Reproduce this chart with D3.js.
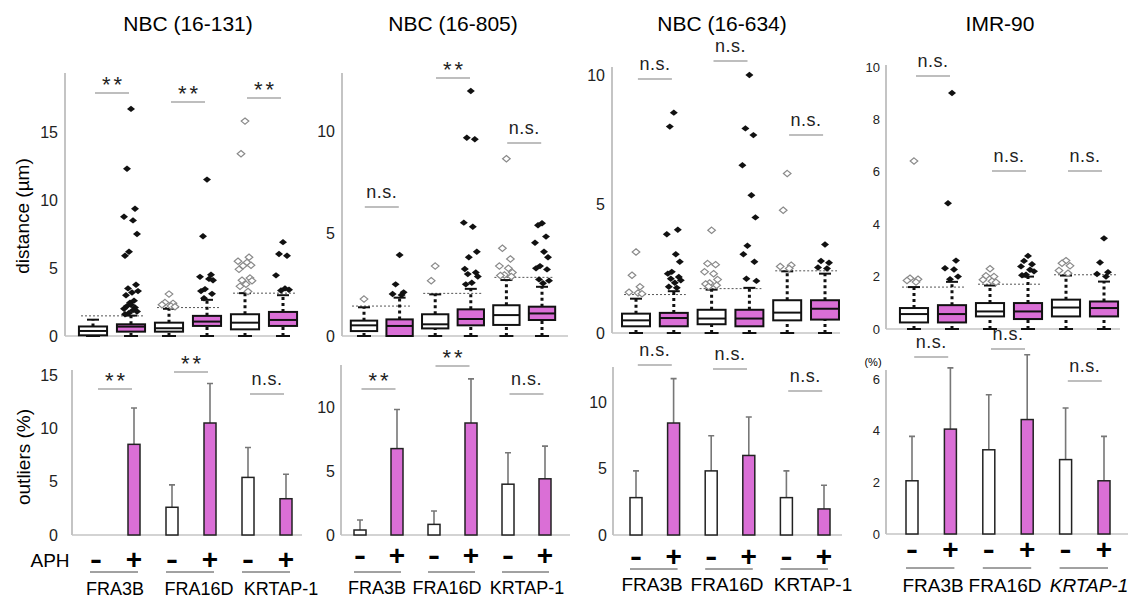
<!DOCTYPE html>
<html>
<head>
<meta charset="utf-8">
<script src="https://d3js.org/d3.v7.min.js"></script>
<style>
  body {
    margin: 0;
    background: #fff;
    font-family: "Liberation Sans", Arial, sans-serif;
  }
  svg { display: block; }
  .tick text { fill: #222; }
  .axis-line { stroke: #c4c4c4; stroke-width: 2; }
  .sig-line { stroke: #a8a8a8; stroke-width: 1.5; }
  .cutoff { stroke: #555; stroke-width: 1; stroke-dasharray: 2 2; }
  .whisker { stroke: #111; stroke-width: 3; stroke-dasharray: 3 3; }
  .cap, .median { stroke: #111; stroke-width: 2; }
  .err { stroke: #777; stroke-width: 1.6; }
  .under { stroke: #444; stroke-width: 1; }
</style>
</head>
<body>
<script>
  // ---- data ----
  var panelTitles = ["NBC (16-131)", "NBC (16-805)", "NBC (16-634)", "IMR-90"];
  var loci = ["FRA3B", "FRA16D", "KRTAP-1"];
  var aph = ["-", "+"];

  var topTicks = [[0, 5, 10, 15], [0, 5, 10], [0, 5, 10], [0, 2, 4, 6, 8, 10]];
  var botTicks = [[0, 5, 10, 15], [0, 5, 10], [0, 5, 10], [0, 2, 4, 6]];

  // [low whisker, q1, median, q3, high whisker] for FRA3B-, FRA3B+, FRA16D-, FRA16D+, KRTAP-1-, KRTAP-1+
  var boxStats = [
    [[0, 0.05, 0.37, 0.7, 1.2], [0, 0.32, 0.69, 0.86, 1.5], [0, 0.32, 0.57, 0.98, 2.0],
     [0, 0.74, 1.06, 1.48, 2.66], [0, 0.49, 0.98, 1.6, 3.15], [0, 0.74, 1.18, 1.77, 3.0]],
    [[0, 0.24, 0.52, 0.75, 1.4], [0, 0, 0.49, 0.81, 1.87], [0, 0.37, 0.57, 1.06, 2.03],
     [0, 0.52, 0.83, 1.3, 2.3], [0, 0.54, 1.02, 1.5, 2.73], [0, 0.78, 1.1, 1.43, 2.4]],
    [[0, 0.26, 0.49, 0.75, 1.33], [0, 0.26, 0.58, 0.78, 1.62], [0, 0.34, 0.56, 0.9, 1.68],
     [0, 0.26, 0.56, 0.9, 1.75], [0, 0.49, 0.79, 1.27, 2.39], [0, 0.52, 0.94, 1.27, 2.3]],
    [[0, 0.25, 0.57, 0.8, 1.6], [0, 0.25, 0.57, 0.91, 1.8], [0, 0.48, 0.67, 0.99, 1.66],
     [0, 0.38, 0.67, 0.99, 2.0], [0, 0.48, 0.82, 1.12, 2.04], [0, 0.48, 0.8, 1.05, 1.81]]
  ];

  var outliers = [
    [[],
     [16.7, 12.3, 9.36, 8.77, 8.5, 7.5, 6.2, 5.9, 3.77, 3.5, 3.3, 3.2, 3.0, 2.6, 2.45, 2.3, 2.2, 2.1, 2.0, 1.9, 1.8, 1.7, 1.6],
     [3.08, 2.46, 2.4, 2.3, 2.2, 2.15],
     [11.5, 7.34, 4.5, 4.35, 4.2, 4.1, 3.45, 3.3, 3.1, 2.78],
     [15.8, 13.4, 5.79, 5.5, 5.4, 5.2, 5.17, 4.9, 4.26, 4.1, 4.06, 3.8, 3.65, 3.27],
     [6.9, 6.03, 5.9, 4.46, 3.5, 3.4, 3.35]],
    [[1.8],
     [3.95, 2.52, 2.13, 2.05, 2.0],
     [3.41, 2.7],
     [11.95, 9.67, 9.6, 5.53, 5.33, 4.11, 3.84, 3.27, 3.1, 3.02, 2.9, 2.6, 2.52],
     [8.65, 4.28, 3.76, 3.41, 3.3, 3.1, 2.98, 2.95, 2.9],
     [5.5, 5.4, 4.85, 4.55, 4.11, 3.84, 3.41, 3.3, 3.25, 2.76, 2.7, 2.57]],
    [[3.14, 2.24, 1.79, 1.58, 1.55, 1.52],
     [8.54, 8.0, 4.0, 3.83, 3.05, 2.76, 2.37, 2.3, 2.17, 2.1, 2.04, 1.95, 1.79, 1.75],
     [3.98, 2.69, 2.65, 2.37, 2.3, 2.07, 1.94, 1.9, 1.85, 1.8],
     [10.0, 7.93, 7.67, 6.5, 5.34, 4.48, 3.38, 3.05, 2.76, 2.1, 2.02],
     [6.18, 4.76, 2.63, 2.58, 2.5],
     [3.43, 2.79, 2.72, 2.54, 2.5]],
    [[6.41, 1.94, 1.9, 1.85, 1.79],
     [9.01, 4.8, 2.61, 2.32, 2.27, 2.0, 1.9],
     [2.3, 2.03, 2.0, 1.88, 1.82, 1.78],
     [2.79, 2.6, 2.47, 2.39, 2.26, 2.2, 2.07, 2.05],
     [2.61, 2.51, 2.41, 2.23, 2.13],
     [3.46, 2.54, 2.17, 2.1, 2.0]]
  ];

  // outlier cut-off per locus (dotted line)
  var cutoffs = [[1.48, 2.09, 3.15], [1.46, 2.08, 2.86], [1.49, 1.72, 2.41], [1.6, 1.71, 2.07]];

  // outliers (%) mean and SD
  var outlierPct = [
    [0, 8.5, 2.6, 10.5, 5.4, 3.4],
    [0.39, 6.75, 0.83, 8.75, 3.97, 4.39],
    [2.81, 8.42, 4.82, 5.98, 2.81, 1.96],
    [2.06, 4.06, 3.26, 4.43, 2.88, 2.06]
  ];
  var outlierSD = [
    [0, 3.4, 2.1, 3.7, 2.8, 2.3],
    [0.78, 3.05, 1.04, 3.45, 2.45, 2.55],
    [2.01, 3.34, 2.64, 2.89, 2.01, 1.78],
    [1.72, 2.37, 2.13, 2.51, 2.0, 1.72]
  ];

  var topSig = [["**", "**", "**"], ["n.s.", "**", "n.s."], ["n.s.", "n.s.", "n.s."], ["n.s.", "n.s.", "n.s."]];
  var botSig = [["**", "**", "n.s."], ["**", "**", "n.s."], ["n.s.", "n.s.", "n.s."], ["n.s.", "n.s.", "n.s."]];

  // ---- layout (pixels) ----
  var layout = [
    {tx: 188,
     top: {ax: 65, end: 290, y0: 73, base: 336, ref: [15, 132], c0: 93, step: 38, lab: 58, fs: 16},
     bot: {ax: 72, end: 302, y0: 370, base: 535, ref: [15, 375], c0: 96, step: 38, lab: 58, fs: 16},
     aphY: 569, ulY: 572, grpY: 595, grpX: [115, 199, 281], grpFs: 18,
     sigTop: [93, 102, 98], sigBot: [389, 372, 394]},
    {tx: 453,
     top: {ax: 342, end: 568, y0: 73, base: 336, ref: [10, 131], c0: 364, step: 35.6, lab: 335, fs: 16},
     bot: {ax: 341, end: 570, y0: 365, base: 535, ref: [10, 407], c0: 360, step: 37, lab: 335, fs: 16},
     aphY: 565, ulY: 572, grpY: 594, grpX: [377, 447, 527], grpFs: 18,
     sigTop: [207, 78, 143], sigBot: [389, 366, 394]},
    {tx: 722,
     top: {ax: 612, end: 840, y0: 67, base: 333, ref: [10, 75], c0: 636, step: 37.8, lab: 605, fs: 16},
     bot: {ax: 613, end: 842, y0: 367, base: 535, ref: [10, 402], c0: 636, step: 37.6, lab: 607, fs: 16},
     aphY: 566, ulY: 569, grpY: 591, grpX: [652, 727, 813], grpFs: 19,
     sigTop: [79, 61, 135], sigBot: [365, 369, 391]},
    {tx: 1000,
     top: {ax: 886, end: 1120, y0: 65, base: 329, ref: [10, 67], c0: 914, step: 38, lab: 880, fs: 13},
     bot: {ax: 886, end: 1128, y0: 370, base: 534, ref: [6, 379], c0: 912, step: 38.4, lab: 880, fs: 13},
     aphY: 559, ulY: 568, grpY: 592, grpX: [933, 1005, 1089], grpFs: 19,
     sigTop: [76, 171, 171], sigBot: [357, 349, 381]}
  ];

  var pink = "#da6fd6";
  var conds = loci.flatMap(l => aph.map(a => l + a));
  var jitter = [0, -4, 4, -7, 2, 6, -2, -6, 5, -3, 7, 1, -5, 3, -1];
  var fillDiamond = "M0,-3.2L4,0L0,3.2L-4,0Z";
  var openDiamond = "M0,-3.2L3.8,0L0,3.2L-3.8,0Z";

  var svg = d3.select("body").append("svg")
      .attr("width", 1138)
      .attr("height", 601);

  function yAxis(g, L, y, ticks) {
    g.append("line").attr("class", "axis-line")
        .attr("x1", L.ax).attr("x2", L.ax).attr("y1", L.y0).attr("y2", L.base);
    g.append("line").attr("class", "axis-line").style("stroke-width", 1.5)
        .attr("x1", L.ax).attr("x2", L.end).attr("y1", L.base).attr("y2", L.base);
    g.append("g")
        .attr("transform", `translate(${L.ax},0)`)
        .call(d3.axisLeft(y).tickValues(ticks).tickSize(0).tickPadding(L.ax - L.lab).tickFormat(d3.format("d")))
        .call(a => a.select(".domain").remove())
        .selectAll("text")
        .style("font-size", L.fs + "px")
        .style("font-family", "inherit");
  }

  function sig(g, x, lineY, label) {
    g.append("line").attr("class", "sig-line")
        .attr("x1", x - 17).attr("x2", x + 17).attr("y1", lineY).attr("y2", lineY);
    var star = label === "**";
    g.append("text")
        .attr("x", x + (star ? 1.5 : 0))
        .attr("y", star ? lineY - 1 : lineY - 9)
        .attr("text-anchor", "middle")
        .style("font-size", star ? "22px" : "18px")
        .style("letter-spacing", star ? "3px" : "0.5px")
        .style("fill", "#222")
        .text(label);
  }

  layout.forEach(function(P, p) {
    var g = svg.append("g");

    g.append("text")
        .attr("x", P.tx).attr("y", 31)
        .attr("text-anchor", "middle")
        .style("font-size", "21px")
        .text(panelTitles[p]);

    // ---- box plots ----
    var T = P.top;
    var xT = d3.scalePoint().domain(conds).range([T.c0, T.c0 + 5 * T.step]);
    var yT = d3.scaleLinear().domain([0, T.ref[0]]).range([T.base, T.ref[1]]);
    var bw = T.step * 0.74;

    yAxis(g, T, yT, topTicks[p]);

    loci.forEach(function(l, k) {
      var x1 = xT(conds[2 * k]), x2 = xT(conds[2 * k + 1]);
      g.append("line").attr("class", "cutoff")
          .attr("x1", x1 - 12).attr("x2", x2 + 12)
          .attr("y1", yT(cutoffs[p][k])).attr("y2", yT(cutoffs[p][k]));
    });

    var box = g.selectAll(".box")
        .data(boxStats[p])
      .enter().append("g")
        .attr("class", "box")
        .attr("transform", (d, i) => `translate(${xT(conds[i])},0)`);

    box.append("line").attr("class", "whisker")
        .attr("y1", d => yT(d[3])).attr("y2", d => yT(d[4]));
    box.append("line").attr("class", "whisker")
        .attr("y1", d => yT(d[0])).attr("y2", d => yT(d[1]));
    box.append("line").attr("class", "cap")
        .attr("x1", -6).attr("x2", 6).attr("y1", d => yT(d[4])).attr("y2", d => yT(d[4]));
    box.append("line").attr("class", "cap")
        .attr("x1", -7).attr("x2", 7).attr("y1", d => yT(d[0])).attr("y2", d => yT(d[0]));
    box.append("rect")
        .attr("x", -bw / 2).attr("width", bw)
        .attr("y", d => yT(d[3]))
        .attr("height", d => yT(d[1]) - yT(d[3]))
        .style("fill", (d, i) => i % 2 ? pink : "#fff")
        .style("stroke", "#111").style("stroke-width", 2);
    box.append("line").attr("class", "median")
        .attr("x1", -bw / 2).attr("x2", bw / 2)
        .attr("y1", d => yT(d[2])).attr("y2", d => yT(d[2]));

    outliers[p].forEach(function(vals, i) {
      g.selectAll(null)
          .data(vals)
        .enter().append("path")
          .attr("d", i % 2 ? fillDiamond : openDiamond)
          .attr("transform", (v, j) => `translate(${xT(conds[i]) + jitter[j % jitter.length]},${yT(v)})`)
          .style("fill", i % 2 ? "#111" : "#fff")
          .style("stroke", i % 2 ? "none" : "#8a8a8a")
          .style("stroke-width", 1.2);
    });

    topSig[p].forEach(function(s, k) {
      sig(g, (xT(conds[2 * k]) + xT(conds[2 * k + 1])) / 2, P.sigTop[k], s);
    });

    // ---- outlier % bars ----
    var B = P.bot;
    var xB = d3.scalePoint().domain(conds).range([B.c0, B.c0 + 5 * B.step]);
    var yB = d3.scaleLinear().domain([0, B.ref[0]]).range([B.base, B.ref[1]]);

    yAxis(g, B, yB, botTicks[p]);

    var bars = outlierPct[p].map((v, i) => ({v: v, sd: outlierSD[p][i], c: conds[i], i: i}))
        .filter(d => d.v > 0);

    g.selectAll(".err")
        .data(bars)
      .enter().append("path")
        .attr("class", "err")
        .style("fill", "none")
        .attr("d", d => `M${xB(d.c)},${yB(d.v)}V${yB(d.v + d.sd)}M${xB(d.c) - 3},${yB(d.v + d.sd)}H${xB(d.c) + 3}`);

    g.selectAll(".bar")
        .data(bars)
      .enter().append("rect")
        .attr("class", "bar")
        .attr("x", d => xB(d.c) - 6)
        .attr("width", 12)
        .attr("y", d => yB(d.v))
        .attr("height", d => yB(0) - yB(d.v))
        .style("fill", d => d.i % 2 ? pink : "#fff")
        .style("stroke", "#222")
        .style("stroke-width", 1.5);

    botSig[p].forEach(function(s, k) {
      sig(g, (xB(conds[2 * k]) + xB(conds[2 * k + 1])) / 2, P.sigBot[k], s);
    });

    // APH - / + and locus labels
    conds.forEach(function(c, i) {
      var t = g.append("text")
          .attr("x", xB(c) + (i % 2 ? 0 : -6))
          .attr("y", P.aphY)
          .attr("text-anchor", i % 2 ? "middle" : "start")
          .style("font-size", "28px")
          .style("font-weight", "bold")
          .text(aph[i % 2]);
      if (i % 2 === 0) t.attr("textLength", 12).attr("lengthAdjust", "spacingAndGlyphs");
    });

    loci.forEach(function(l, k) {
      var x1 = xB(conds[2 * k]), x2 = xB(conds[2 * k + 1]);
      g.append("line").attr("class", "under")
          .attr("x1", x1 - 6).attr("x2", x2 + 4).attr("y1", P.ulY).attr("y2", P.ulY);
      g.append("text")
          .attr("x", P.grpX[k])
          .attr("y", P.grpY)
          .attr("text-anchor", "middle")
          .style("font-size", P.grpFs + "px")
          .style("font-style", p === 3 && l === "KRTAP-1" ? "italic" : "normal")
          .text(l);
    });
  });

  // axis titles
  svg.append("text")
      .attr("transform", "translate(29,216) rotate(-90)")
      .attr("text-anchor", "middle")
      .style("font-size", "19px")
      .text("distance (\u00b5m)");

  svg.append("text")
      .attr("transform", "translate(30,457) rotate(-90)")
      .attr("text-anchor", "middle")
      .style("font-size", "19px")
      .text("outliers (%)");

  svg.append("text")
      .attr("x", 50).attr("y", 567)
      .attr("text-anchor", "middle")
      .style("font-size", "19px")
      .text("APH");

  svg.append("text")
      .attr("x", 873).attr("y", 366)
      .attr("text-anchor", "middle")
      .style("font-size", "11px")
      .text("(%)");
</script>
</body>
</html>
